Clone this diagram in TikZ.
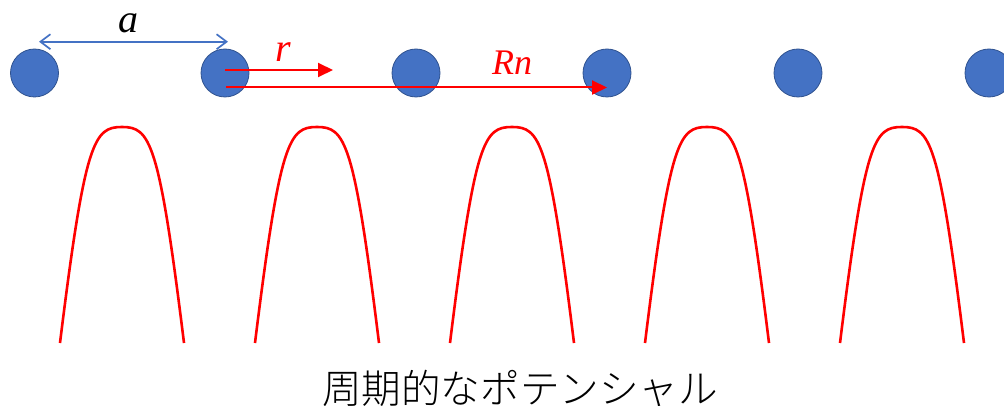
\documentclass[tikz,border=0pt]{standalone}
\usepackage{fontspec}
\setmainfont{Liberation Serif}
\newfontfamily\lblfont{Liberation Serif}
\IfFontExistsTF{Noto Sans CJK JP Light}
  {\newfontfamily\jpfont{Noto Sans CJK JP Light}}
  {\newfontfamily\jpfont{Noto Sans CJK JP}}
\usetikzlibrary{arrows.meta}
\definecolor{atomfill}{HTML}{4472C4}
\definecolor{atomedge}{HTML}{2F528F}
\definecolor{potred}{HTML}{FF0000}
\tikzset{
  atom/.style={circle,fill=atomfill,draw=atomedge,line width=0.8pt,minimum size=48pt,inner sep=0pt},
  distarrow/.style={draw=atomfill,line width=1.7pt,{Straight Barb[length=10pt,width=15pt]}-{Straight Barb[length=10pt,width=15pt]}},
  vecarrow/.style={draw=potred,line width=2pt,-{Triangle[length=15pt,width=14pt]}},
  potential/.style={draw=potred,line width=2.6pt},
  biglabel/.style={font=\lblfont\itshape\fontsize{40}{42}\selectfont,inner sep=0pt},
  midlabel/.style={font=\lblfont\itshape\fontsize{36}{38}\selectfont,inner sep=0pt},
}
\begin{document}
\begin{tikzpicture}[x=1pt,y=-1pt]
\useasboundingbox (0,0) rectangle (1004,406);
% atoms
\foreach \i/\x in {1/34.5,2/225,3/416,4/607,5/798,6/989}{
  \node[atom] (c\i) at (\x,73) {};
}
% lattice constant
\coordinate (aL) at (39,41.7);
\coordinate (aR) at (228,41.7);
\draw[distarrow] (aL) -- (aR);
\node[biglabel,anchor=base,text=black] (la) at (128,33) {a};
% r vector
\coordinate (rE) at (333,70);
\draw[vecarrow] (c2.center |- rE) -- (rE);
\node[biglabel,anchor=base,text=potred] (lr) at (283,62) {r};
% Rn vector
\coordinate (RnS) at (226,87.5);
\draw[vecarrow] (RnS) -- (c4.center |- RnS);
\node[midlabel,anchor=base,text=potred] (lRn) at (512,75) {Rn};
% periodic potential
\foreach \cx in {122,317,512,707,902}{
  \draw[potential] (\cx-62,343) .. controls (\cx-37,140) and (\cx-28,127) .. (\cx,127)
        .. controls (\cx+28,127) and (\cx+37,140) .. (\cx+62,343);
}
\node[font=\jpfont\fontsize{39.6}{42}\selectfont,inner sep=0pt] (title) at (520,388) {周期的なポテンシャル};
\end{tikzpicture}
\end{document}
